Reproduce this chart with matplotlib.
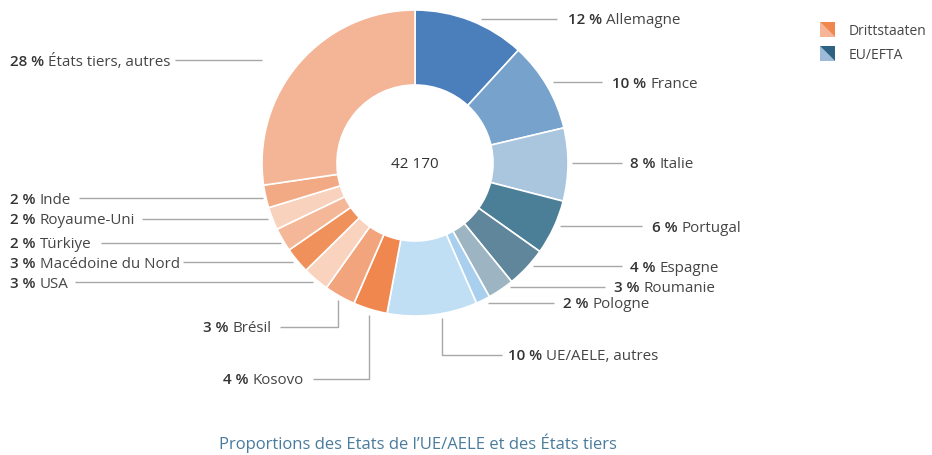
import matplotlib
matplotlib.use("Agg")
import matplotlib.pyplot as plt
from matplotlib.patches import Polygon

# ---------------- data ----------------
names = ["Allemagne", "France", "Italie", "Portugal", "Espagne", "Roumanie",
         "Pologne", "UE/AELE, autres",
         "Kosovo", "Brésil", "USA", "Macédoine du Nord", "Türkiye",
         "Royaume-Uni", "Inde", "États tiers, autres"]
shares = [11.8, 9.5, 7.7, 5.8, 4.3, 2.8, 1.5, 9.5,
          3.6, 3.3, 2.8, 2.75, 2.5, 2.4, 2.4, 27.3]
pct_labels = ["12 %", "10 %", "8 %", "6 %", "4 %", "3 %", "2 %", "10 %",
              "4 %", "3 %", "3 %", "3 %", "2 %", "2 %", "2 %", "28 %"]
groups = ["EU/EFTA"] * 8 + ["Drittstaaten"] * 8
total_label = "42 170"
title = "Proportions des Etats de l\u2019UE/AELE et des États tiers"
legend_labels = ["Drittstaaten", "EU/EFTA"]

colors = ["#4b7fbc", "#76a2cc", "#aac5de", "#4b7e97", "#60869b", "#9db5c3",
          "#a9cfee", "#c1dff4",
          "#f0874f", "#f2a57d", "#f9d3be", "#f0915b", "#f4b797", "#f9d2bd",
          "#f2aa85", "#f3b596"]
legend_colors = [("#f0874f", "#f5b596"), ("#2e6283", "#9dbbd8")]

# ---------------- layout ----------------
W, H = 932, 455
def Y(y):
    return H - y

fig = plt.figure(figsize=(W / 100, H / 100), dpi=100)
ax = fig.add_axes([0, 0, 1, 1])
ax.set_xlim(0, W)
ax.set_ylim(0, H)
ax.axis("off")

cx, cy, R, ring = 415, 163, 153, 75
ax.pie(shares, colors=colors, center=(cx, Y(cy)), radius=R, startangle=90,
       counterclock=False,
       wedgeprops=dict(width=ring, edgecolor="white", linewidth=1.2))
ax.set_xlim(0, W)
ax.set_ylim(0, H)
ax.set_aspect("auto")

FONT = ["Open Sans", "DejaVu Sans"]
FS = 10.9
PCT_COLOR = "#333333"
NAME_COLOR = "#454545"
LINE_COLOR = "#a8a8a8"
VA = "center_baseline"

ax.text(cx, Y(cy), total_label, ha="center", va=VA, fontsize=11,
        color="#333333", family=FONT)

# leader lines: list of (x, y) points in pixel coords; text anchor and alignment
leaders = [
    ([(481, 19), (557, 19)], (568, 19), "left"),
    ([(553, 82), (602, 82)], (612, 82), "left"),
    ([(572, 163), (622, 163)], (630, 163), "left"),
    ([(560, 226), (642, 226)], (652, 226), "left"),
    ([(533, 266), (622, 266)], (630, 266), "left"),
    ([(510, 287), (605, 287)], (614, 287), "left"),
    ([(488, 303), (554, 303)], (563, 303), "left"),
    ([(442, 318), (442, 355), (502, 355)], (508, 355), "left"),
    ([(369, 315), (369, 379), (313, 379)], (304, 379), "right"),
    ([(338, 300), (338, 327), (280, 327)], (272, 327), "right"),
    ([(313, 282), (75, 282)], (10, 282), "left"),
    ([(293, 262), (183, 262)], (10, 262), "left"),
    ([(281, 243), (101, 243)], (10, 243), "left"),
    ([(268, 219), (142, 219)], (10, 219), "left"),
    ([(263, 198), (79, 198)], (10, 198), "left"),
    ([(262, 60), (175, 60)], (10, 60), "left"),
]

fig.canvas.draw()
renderer = fig.canvas.get_renderer()
inv = ax.transData.inverted()
GAP = 4

for i, (pts, (tx, ty), align) in enumerate(leaders):
    xs = [p[0] for p in pts]
    ys = [Y(p[1]) for p in pts]
    ax.plot(xs, ys, color=LINE_COLOR, lw=1.0, solid_capstyle="butt")
    if align == "left":
        t1 = ax.text(tx, Y(ty), pct_labels[i], ha="left", va=VA,
                     fontsize=FS, fontweight="semibold", color=PCT_COLOR,
                     family=FONT)
        bb = t1.get_window_extent(renderer)
        x1 = inv.transform((bb.x1, 0))[0]
        ax.text(x1 + GAP, Y(ty), names[i], ha="left", va=VA,
                fontsize=FS, color=NAME_COLOR, family=FONT)
    else:
        t2 = ax.text(tx, Y(ty), names[i], ha="right", va=VA,
                     fontsize=FS, color=NAME_COLOR, family=FONT)
        bb = t2.get_window_extent(renderer)
        x0 = inv.transform((bb.x0, 0))[0]
        ax.text(x0 - GAP, Y(ty), pct_labels[i], ha="right", va=VA,
                fontsize=FS, fontweight="semibold", color=PCT_COLOR,
                family=FONT)

# legend with diagonally split swatches
for k, (lab, (dark, light)) in enumerate(zip(legend_labels, legend_colors)):
    x0, y0, s = 820, 22 + k * 24, 15
    tl, tr = (x0, Y(y0)), (x0 + s, Y(y0))
    bl, br = (x0, Y(y0 + s)), (x0 + s, Y(y0 + s))
    ax.add_patch(Polygon([tl, bl, br], closed=True, facecolor=light,
                         edgecolor="none"))
    ax.add_patch(Polygon([tl, tr, br], closed=True, facecolor=dark,
                         edgecolor="none"))
    ax.text(849, Y(y0 + s / 2), lab, ha="left", va=VA, fontsize=10,
            color=NAME_COLOR, family=FONT)

ax.text(418, Y(441), title, ha="center", va=VA, fontsize=12,
        color="#4a7b9d", family=FONT)

fig.savefig("out.png", dpi=100)
